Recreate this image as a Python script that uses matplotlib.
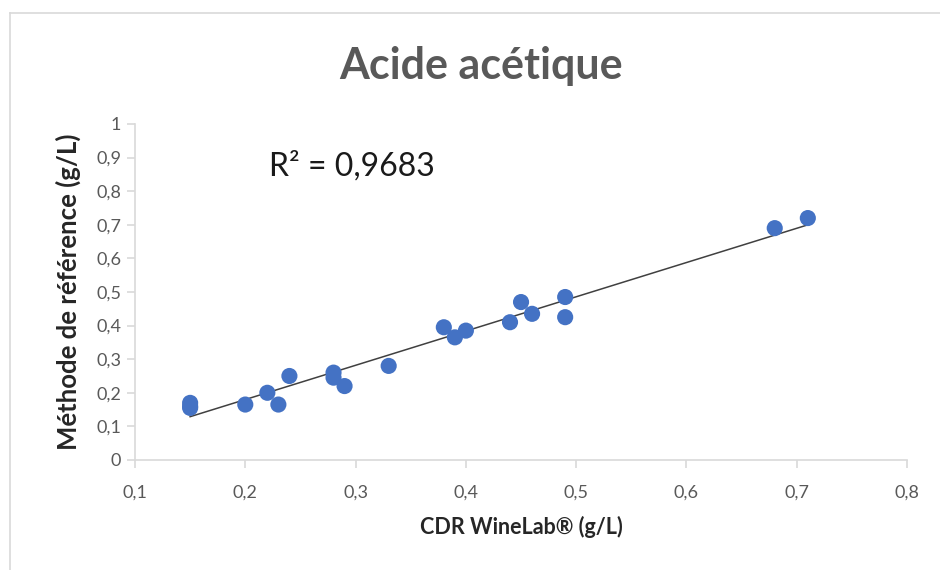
import numpy as np
import matplotlib
matplotlib.use('Agg')
import matplotlib.pyplot as plt
from matplotlib.ticker import FuncFormatter
from matplotlib.lines import Line2D

# == données ==================================================================
cdr_winelab = [0.15, 0.15, 0.15, 0.20, 0.22, 0.23, 0.24, 0.28, 0.28, 0.29,
               0.33, 0.38, 0.39, 0.40, 0.44, 0.45, 0.46, 0.49, 0.49, 0.68, 0.71]
methode_ref = [0.17, 0.16, 0.155, 0.165, 0.20, 0.165, 0.25, 0.26, 0.245, 0.22,
               0.28, 0.395, 0.365, 0.385, 0.41, 0.47, 0.435, 0.485, 0.425, 0.69, 0.72]
r2_text = "R² = 0,9683"
# =============================================================================

plt.rcParams['font.family'] = ['Lato', 'DejaVu Sans']

x = np.array(cdr_winelab)
y = np.array(methode_ref)

fig = plt.figure(figsize=(9.4, 5.7), dpi=100)
ax = fig.add_axes([0.1436, 0.193, 0.8214, 0.5895])

ax.scatter(x, y, s=135, color='#4472C4', edgecolors='none', zorder=3)

# courbe de tendance linéaire
z = np.polyfit(x, y, 1)
xl = np.array([x.min(), x.max()])
ax.plot(xl, np.poly1d(z)(xl), color='#404040', lw=1.1, zorder=2)

ax.set_xlim(0.1, 0.8)
ax.set_ylim(0, 1)
ax.set_xticks(np.arange(0.1, 0.81, 0.1))
ax.set_yticks(np.arange(0, 1.01, 0.1))
fmt = FuncFormatter(lambda v, p: f"{v:.1f}".replace('.', ',').replace('0,0', '0').replace('1,0', '1'))
ax.xaxis.set_major_formatter(fmt)
ax.yaxis.set_major_formatter(fmt)

for s in ['top', 'right']:
    ax.spines[s].set_visible(False)
for s in ['left', 'bottom']:
    ax.spines[s].set_color('#d9d9d9')
    ax.spines[s].set_linewidth(1.2)
ax.tick_params(colors='#d9d9d9', labelcolor='#595959', labelsize=13,
               length=6, width=1.2, direction='out')
ax.tick_params(axis='x', pad=12)
ax.tick_params(axis='y', pad=4)

ax.set_xlabel('CDR WineLab® (g/L)', fontsize=15.5, fontweight='bold', color='#262626', labelpad=11)
ax.set_ylabel('Méthode de référence (g/L)', fontsize=18.5, fontweight='bold', color='#262626', labelpad=11)
fig.text(0.512, 0.885, 'Acide acétique', ha='center', va='center', fontsize=31,
         fontweight='bold', color='#595959')
ax.text(0.2211, 0.875, r2_text, fontsize=23, color='#1a1a1a', va='center', ha='left')

# cadre de la capture
fig.add_artist(Line2D([0.011, 0.011], [0, 0.977], color='#d9d9d9', lw=1.2))
fig.add_artist(Line2D([0.011, 1.0], [0.977, 0.977], color='#d9d9d9', lw=1.2))

plt.savefig('out.png', dpi=100)
